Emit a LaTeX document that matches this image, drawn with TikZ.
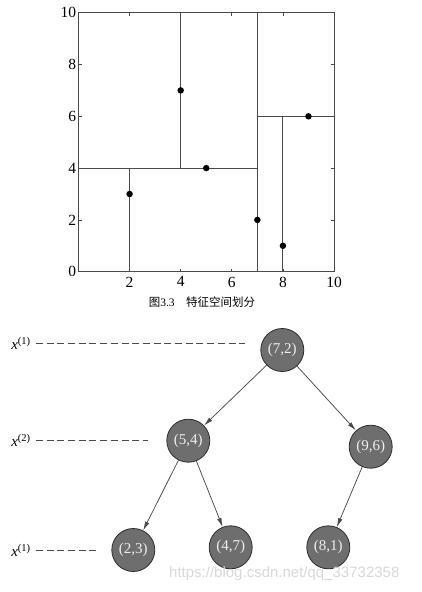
\documentclass[tikz,border=0pt]{standalone}
\usepackage{fontspec}
\setmainfont{Liberation Serif}
\newfontfamily\cjk{Noto Sans CJK SC}
\newfontfamily\wmfont{Liberation Sans}
\usetikzlibrary{arrows.meta}
\definecolor{axisgray}{HTML}{4A4A4A}
\definecolor{nodefill}{HTML}{6E6E6E}
\definecolor{nodeedge}{HTML}{2E2E2E}
\definecolor{labelwhite}{HTML}{EEEEEE}
\tikzset{
  frame/.style={draw=axisgray, line width=1pt},
  split/.style={draw=axisgray, line width=1pt},
  tick/.style={draw=axisgray, line width=0.8pt},
  dot/.style={circle, fill=black, inner sep=0pt, minimum size=6.5pt},
  ticklab/.style={font=\fontsize{15.5}{15.5}\selectfont, inner sep=1pt},
  kdnode/.style={circle, draw=nodeedge, line width=0.8pt, fill=nodefill, minimum size=43pt, inner sep=0pt,
     text=labelwhite, font=\fontsize{15}{15}\selectfont},
  edge/.style={draw=axisgray, line width=0.75pt, -{Latex[length=9pt,width=4.5pt]}},
  level/.style={font=\fontsize{15}{15}\selectfont, inner sep=0pt},
  guide/.style={draw=axisgray, line width=1pt, dash pattern=on 7pt off 3.7pt},
}
\begin{document}
\begin{tikzpicture}[x=1pt,y=-1pt]
\useasboundingbox[fill=white] (0,0) rectangle (421,592);

% ---------- partition plot ----------
\begin{scope}[shift={(78.5,271.7)}, x=25.55pt, y=25.9pt]
  \coordinate (o) at (0,0);
  \coordinate (tr) at (10,10);
  \draw[frame] (o) rectangle (tr);
  \foreach \v in {2,4,6,8} {
    \draw[tick] (\v,0) -- (\v,0.12);
    \draw[tick] (\v,10) -- (\v,9.88);
    \draw[tick] (0,\v) -- (0.12,\v);
    \draw[tick] (10,\v) -- (9.88,\v);
  }
  % splitting lines
  \draw[split] (7,0) -- (7,10);
  \draw[split] (0,4) -- (7,4);
  \draw[split] (4,4) -- (4,10);
  \draw[split] (2,0) -- (2,4);
  \draw[split] (7,6) -- (10,6);
  \draw[split] (8,0) -- (8,6);
  % points
  \foreach \px/\py [count=\i] in {2/3,5/4,4/7,7/2,8/1,9/6}
    \node[dot] (p\i) at (\px,\py) {};
  % tick labels
  \foreach \v in {0,2,4,6,8,10}
    \node[ticklab, anchor=east] (yl\v) at (-0.05,\v) {\v};
  \foreach \v in {2,4,6,8,10}
    \node[ticklab, anchor=north] (xl\v) at (\v,-0.15) {\v};
\end{scope}
\node[font=\fontsize{11.5}{11.5}\selectfont] (cap) at (202,302.5) {{\cjk 图}3.3\quad{\cjk 特征空间划分}};

% ---------- kd-tree ----------
\node[kdnode] (n72) at (282.3,350) {(7,2)};
\node[kdnode] (n54) at (188.3,440.7) {(5,4)};
\node[kdnode] (n96) at (370.7,446.7) {(9,6)};
\node[kdnode] (n23) at (133.3,550) {(2,3)};
\node[kdnode] (n47) at (230.7,547.3) {(4,7)};
\node[kdnode] (n81) at (328.3,547.3) {(8,1)};

\draw[edge] (n72) -- (n54);
\draw[edge] (n72) -- (n96);
\draw[edge] (n54) -- (n23);
\draw[edge] (n54) -- (n47);
\draw[edge] (n96) -- (n81);

% level labels
\node[level] (l1) at (21,343.5) {\textit{x}\textsuperscript{(1)}};
\node[level] (l2) at (21,440) {\textit{x}\textsuperscript{(2)}};
\node[level] (l3) at (21,550) {\textit{x}\textsuperscript{(1)}};
\coordinate (e1) at (245,343.5);
\coordinate (e2) at (148,440);
\coordinate (e3) at (97,550);
\draw[guide] (l1.east) ++(5,0) -- (e1);
\draw[guide] (l2.east) ++(5,0) -- (e2);
\draw[guide] (l3.east) ++(5,0) -- (e3);

% watermark
\node[anchor=west, text=black!15, font=\wmfont\fontsize{15}{15}\selectfont, inner sep=0pt] (wm) at (169,573.5) {https://blog.csdn.net/qq\_33732358};
\end{tikzpicture}
\end{document}
